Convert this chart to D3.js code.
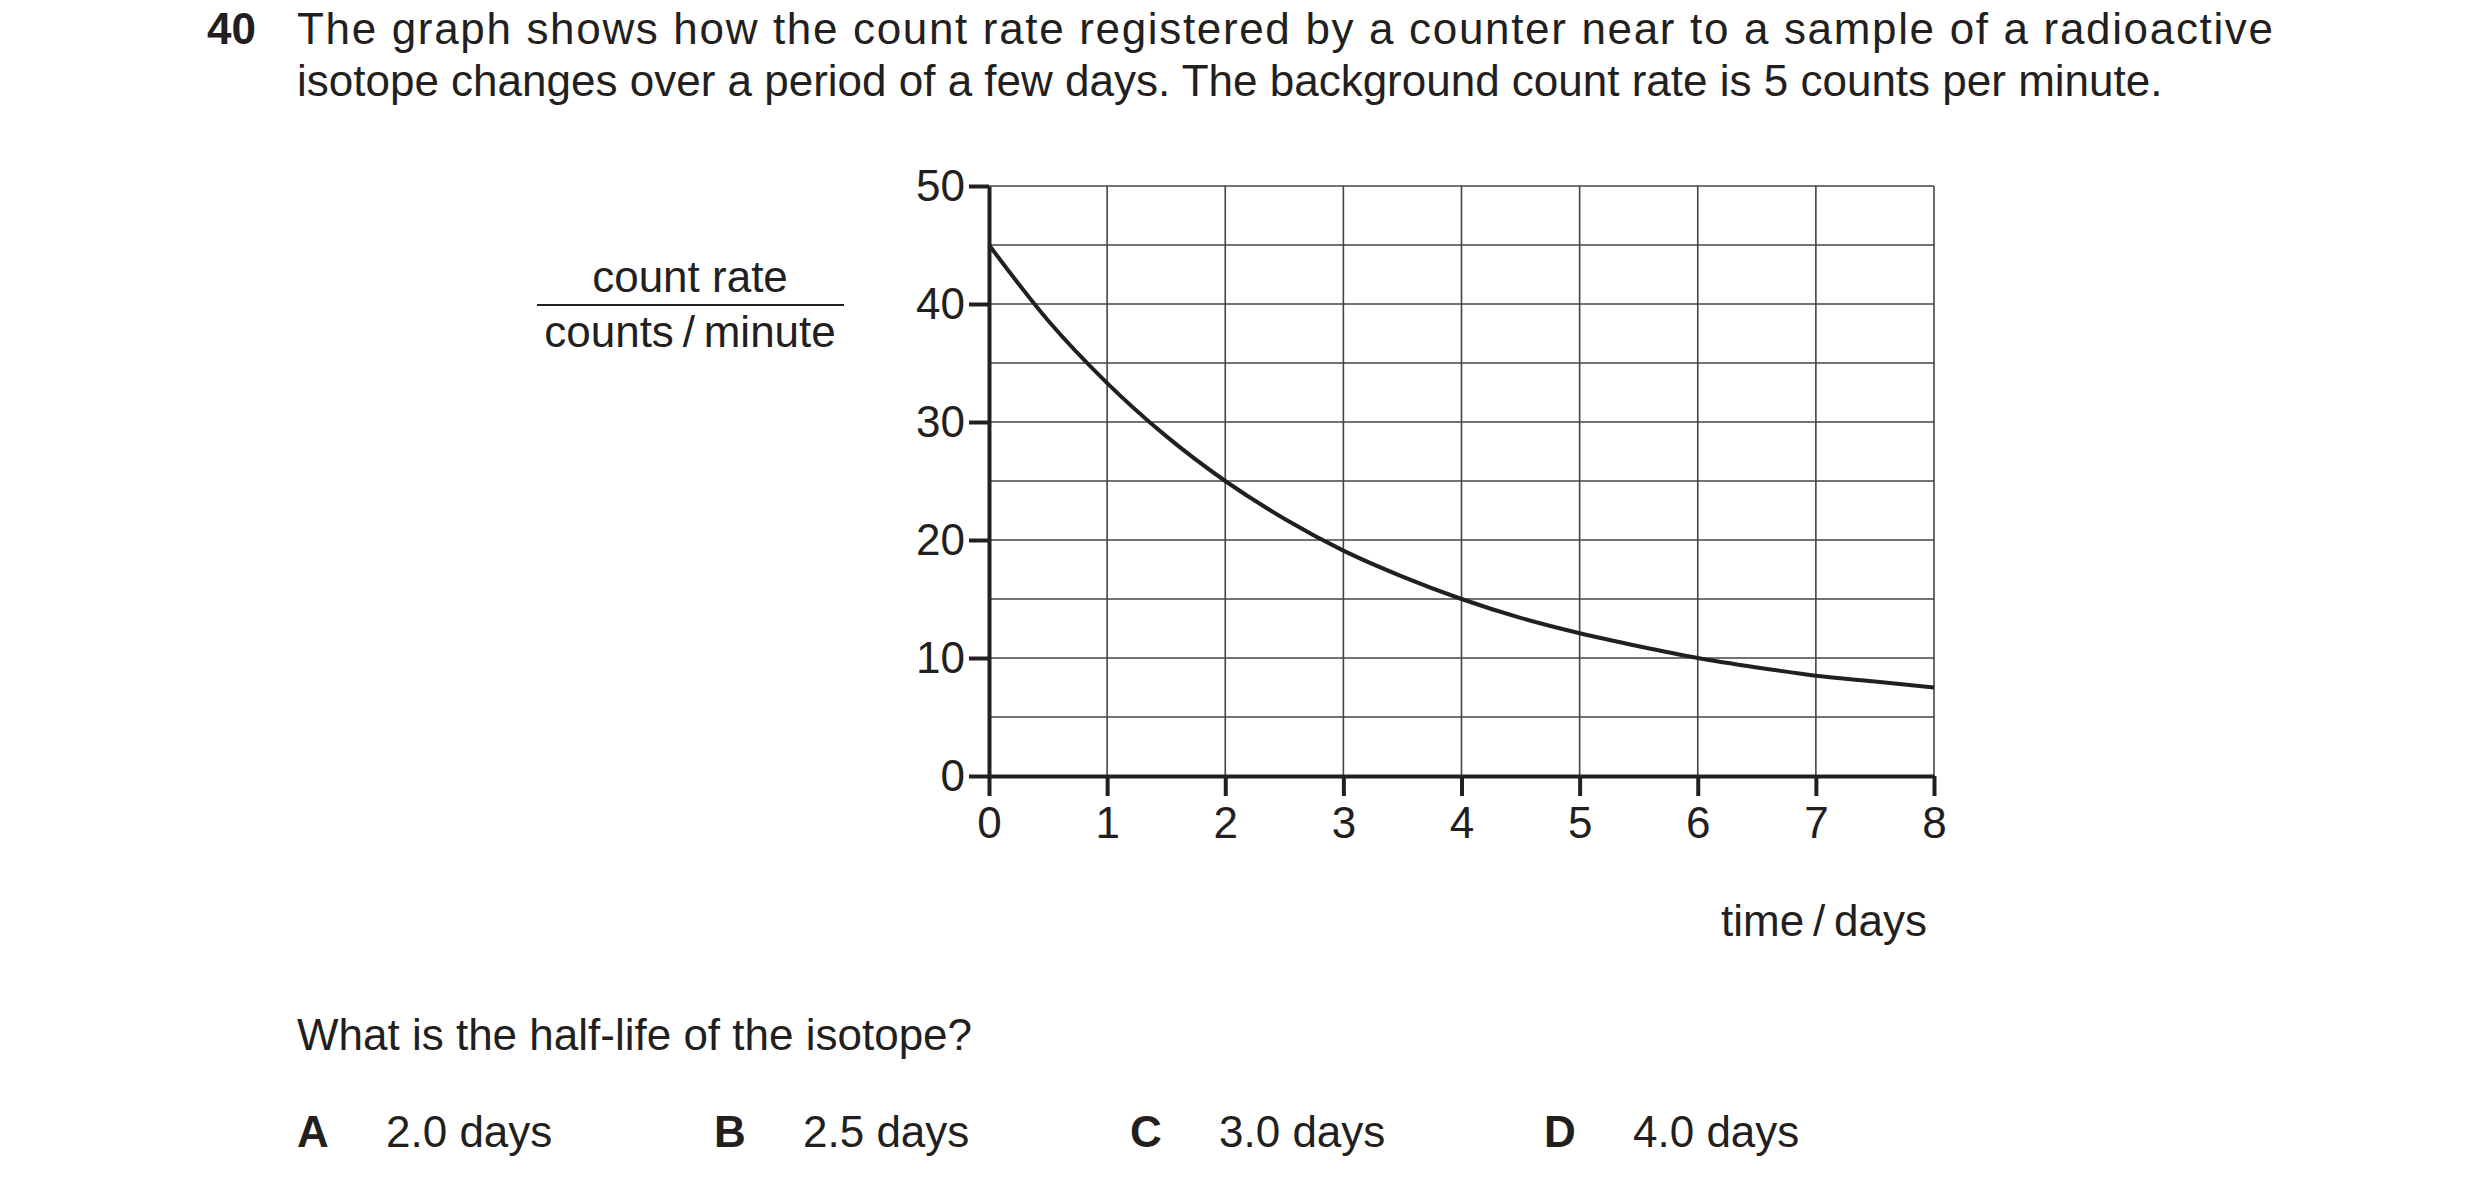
<!DOCTYPE html>
<html><head><meta charset="utf-8">
<script src="https://cdn.jsdelivr.net/npm/d3@7"></script>
<style>body{margin:0;background:#fff}svg{display:block;font-family:"Liberation Sans",Arial,sans-serif;fill:#231f20}</style>
</head><body><svg id="c" width="2480" height="1186"></svg>
<script>
// readings, every half day
const days = [0,0.5,1,1.5,2,2.5,3,3.5,4,4.5,5,5.5,6,6.5,7,7.5,8];
const countRate = [45,38.6,33.3,28.8,25,21.8,19.1,16.9,15,13.4,12.1,11.0,10,9.2,8.5,8.0,7.5];
const xTicks = [0,1,2,3,4,5,6,7,8];
const yTicks = [0,10,20,30,40,50];
const yGrid = d3.range(0, 55, 5);
const options = [["A","2.0 days"],["B","2.5 days"],["C","3.0 days"],["D","4.0 days"]];

const svg = d3.select("#c");
const ink = "#231f20";
const fs = 44;
const x = d3.scaleLinear().domain([0, 8]).range([989, 1934]);
const y = d3.scaleLinear().domain([0, 50]).range([776, 186]);

// question text
svg.append("text").attr("x", 207).attr("y", 44).attr("font-size", fs).attr("font-weight", "bold").text("40");
svg.append("text").attr("x", 297).attr("y", 44).attr("font-size", fs)
  .attr("textLength", 1976).attr("lengthAdjust", "spacing")
  .text("The graph shows how the count rate registered by a counter near to a sample of a radioactive");
svg.append("text").attr("x", 297).attr("y", 96).attr("font-size", fs)
  .text("isotope changes over a period of a few days. The background count rate is 5 counts per minute.");

// grid
const g = svg.append("g");
g.append("g").selectAll("line").data(yGrid).join("line")
  .attr("x1", x(0)).attr("x2", x(8)).attr("y1", d => y(d)).attr("y2", d => y(d))
  .attr("stroke", "#444").attr("stroke-width", 1.6);
g.append("g").selectAll("line").data(xTicks).join("line")
  .attr("x1", d => x(d)).attr("x2", d => x(d)).attr("y1", y(0)).attr("y2", y(50))
  .attr("stroke", "#444").attr("stroke-width", 1.6);

// axes
const xAxis = g.append("g").attr("transform", `translate(0,${y(0)})`)
  .call(d3.axisBottom(x).tickValues(xTicks).tickFormat(d3.format("d")).tickSize(20).tickSizeOuter(0));
const yAxis = g.append("g").attr("transform", `translate(${x(0)},0)`)
  .call(d3.axisLeft(y).tickValues(yTicks).tickSize(20).tickSizeOuter(0));
[xAxis, yAxis].forEach(a => {
  a.select(".domain").attr("stroke", ink).attr("stroke-width", 4);
  a.selectAll(".tick line").attr("stroke", ink).attr("stroke-width", 4);
  a.selectAll(".tick text").attr("fill", ink).attr("font-size", fs).attr("font-family", "Liberation Sans, Arial, sans-serif");
});
xAxis.selectAll(".tick text").attr("y", 22).attr("dy", "0.9em");
yAxis.selectAll(".tick text").attr("x", -24);

// curve
g.append("path").datum(days.map((d, i) => [d, countRate[i]]))
  .attr("fill", "none").attr("stroke", ink).attr("stroke-width", 4)
  .attr("d", d3.line().x(d => x(d[0])).y(d => y(d[1])).curve(d3.curveMonotoneX));

// axis labels
svg.append("text").attr("x", 690).attr("y", 292).attr("font-size", fs).attr("text-anchor", "middle").text("count rate");
svg.append("line").attr("x1", 537).attr("x2", 844).attr("y1", 305).attr("y2", 305).attr("stroke", ink).attr("stroke-width", 2);
svg.append("text").attr("x", 690).attr("y", 347).attr("font-size", fs).attr("text-anchor", "middle").text("counts\u2009/\u2009minute");
svg.append("text").attr("x", 1824).attr("y", 936).attr("font-size", fs).attr("text-anchor", "middle").text("time\u2009/\u2009days");

// question + options
svg.append("text").attr("x", 297).attr("y", 1050).attr("font-size", fs).text("What is the half-life of the isotope?");
const optX = [297, 714, 1130, 1544];
options.forEach((o, i) => {
  svg.append("text").attr("x", optX[i]).attr("y", 1147).attr("font-size", fs).attr("font-weight", "bold").text(o[0]);
  svg.append("text").attr("x", optX[i] + 89).attr("y", 1147).attr("font-size", fs).text(o[1]);
});
</script></body></html>
